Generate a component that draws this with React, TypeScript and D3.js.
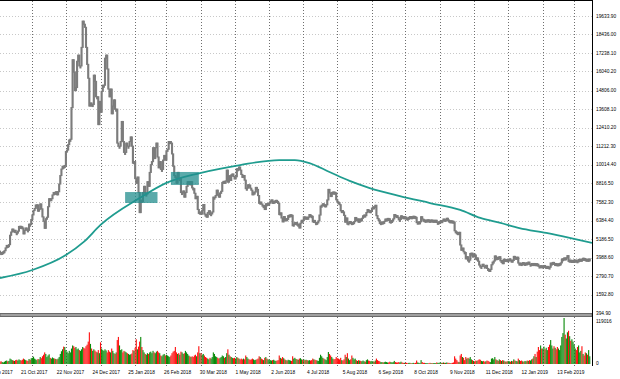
import React from 'react';
import * as d3 from 'd3';

const WIDTH = 620;
const HEIGHT = 379;

// one value per calendar day, starting with the first day below
const firstDay = '2017-10-01';

const close2017Oct = [4390, 4400, 4310, 4210, 4320, 4370, 4430, 4610, 4770, 4760, 4820, 5430, 5640, 5830, 5680, 5750, 5600, 5570, 5700, 6000, 6010, 5980, 5900, 5520, 5750, 5900, 5780, 5750, 6150, 6130, 6450];
const close2017Nov = [6750, 7030, 7160, 7390, 7400, 6990, 7120, 7460, 7140, 6620, 6340, 5880, 6500, 6600, 7280, 7800, 7700, 7800, 8040, 8200, 8100, 8250, 8050, 8250, 8750, 9300, 9720, 9900, 9850, 9950];
const close2017Dec = [10850, 10950, 11300, 11600, 11650, 13700, 16800, 16000, 14800, 15000, 16700, 17100, 16400, 16400, 17600, 19300, 19100, 18900, 17600, 16500, 15600, 13800, 14000, 13800, 13900, 15800, 15400, 14400, 14400, 12600, 14100];
const close2018Jan = [13400, 14750, 15150, 15150, 16900, 17100, 16200, 14900, 14400, 14900, 13300, 13800, 14200, 13600, 13600, 11400, 11200, 11200, 11500, 12800, 11500, 10800, 10800, 11400, 11200, 11200, 11500, 11800, 11200, 10100, 10200];
const close2018Feb = [9100, 8800, 9200, 8200, 6900, 7700, 7600, 8200, 8600, 8100, 8100, 8900, 8600, 9500, 10000, 10200, 11100, 10400, 11100, 11400, 10500, 9800, 10200, 9700, 9700, 10300, 10600, 10300];
const close2018Mar = [10900, 11000, 11500, 11500, 11400, 10700, 9900, 9300, 9200, 8800, 9500, 9100, 9100, 8200, 8200, 8300, 7900, 8200, 8600, 8900, 8900, 8700, 8900, 8500, 8450, 8150, 7800, 7950, 7100, 6850, 6930];
const close2018Apr = [6800, 7050, 7420, 6800, 6780, 6600, 6900, 7020, 6770, 6830, 6940, 7900, 7900, 8000, 8350, 8050, 7900, 8170, 8280, 8850, 8920, 8800, 8950, 9650, 8870, 9280, 8980, 9340, 9400, 9240];
const close2018May = [9080, 9220, 9740, 9700, 9850, 9650, 9370, 9180, 9300, 9000, 8450, 8480, 8700, 8680, 8480, 8350, 8050, 8220, 8230, 8530, 8400, 8000, 7500, 7580, 7450, 7350, 7350, 7100, 7470, 7400, 7500];
const close2018Jun = [7520, 7640, 7720, 7500, 7620, 7650, 7690, 7620, 7500, 6770, 6880, 6550, 6300, 6640, 6400, 6500, 6460, 6700, 6730, 6760, 6720, 6050, 6150, 6250, 6260, 6090, 6150, 5900, 6220, 6400];
const close2018Jul = [6380, 6620, 6510, 6600, 6530, 6600, 6770, 6700, 6660, 6300, 6390, 6250, 6240, 6270, 6360, 6740, 7320, 7380, 7470, 7330, 7400, 7400, 7720, 8400, 8170, 7940, 8200, 8230, 8220, 8180, 7730];
const close2018Aug = [7600, 7540, 7410, 7010, 7030, 6940, 6720, 6280, 6550, 6150, 6240, 6320, 6250, 6190, 6270, 6310, 6580, 6390, 6490, 6270, 6480, 6360, 6530, 6690, 6740, 6700, 6900, 7090, 7030, 6980, 7020];
const close2018Sep = [7190, 7270, 7260, 7370, 6700, 6510, 6410, 6200, 6250, 6290, 6280, 6330, 6480, 6480, 6520, 6500, 6250, 6350, 6390, 6490, 6770, 6710, 6700, 6590, 6430, 6460, 6690, 6640, 6600, 6630];
const close2018Oct = [6590, 6530, 6500, 6590, 6640, 6600, 6630, 6660, 6640, 6590, 6250, 6280, 6300, 6300, 6630, 6480, 6440, 6380, 6400, 6420, 6430, 6400, 6390, 6420, 6390, 6400, 6400, 6400, 6260, 6270, 6300];
const close2018Nov = [6340, 6380, 6360, 6480, 6410, 6460, 6530, 6420, 6340, 6370, 6360, 6340, 6290, 5720, 5650, 5600, 5570, 5620, 4800, 4460, 4600, 4360, 4310, 3900, 4040, 3770, 3820, 4250, 4270, 4020];
const close2018Dec = [4220, 4150, 3880, 3960, 3750, 3500, 3400, 3410, 3550, 3430, 3380, 3480, 3280, 3220, 3200, 3220, 3520, 3690, 3760, 4090, 3850, 4000, 3950, 4040, 3770, 3800, 3590, 3880, 3750, 3860, 3740];
const close2019Jan = [3840, 3900, 3790, 3820, 3800, 4060, 4000, 4000, 4010, 3630, 3630, 3600, 3510, 3660, 3570, 3610, 3640, 3600, 3690, 3540, 3560, 3600, 3570, 3600, 3590, 3590, 3550, 3440, 3410, 3460, 3420];
const close2019Feb = [3440, 3470, 3400, 3410, 3410, 3370, 3360, 3630, 3630, 3670, 3590, 3600, 3580, 3560, 3580, 3600, 3640, 3880, 3910, 3960, 3920, 3970, 4110, 3740, 3820, 3800, 3800, 3800];
const close2019Mar = [3820, 3820, 3780, 3700, 3860, 3870, 3880, 3860, 3940, 3920, 3870, 3880, 3870, 3870, 3900];

// daily volume, thousands
const vol2017Oct = [5, 4, 6, 7, 5, 4, 6, 8, 9, 7, 8, 14, 12, 10, 9, 8, 10, 11, 9, 12, 10, 9, 11, 14, 12, 10, 9, 8, 13, 11, 15];
const vol2017Nov = [16, 19, 14, 12, 10, 13, 12, 18, 15, 20, 24, 30, 26, 18, 22, 25, 16, 14, 17, 15, 14, 13, 12, 14, 18, 26, 33, 38, 45, 44];
const vol2017Dec = [36, 32, 28, 34, 30, 40, 48, 46, 42, 44, 38, 40, 36, 34, 38, 44, 42, 40, 46, 50, 58, 82, 52, 40, 34, 38, 35, 32, 30, 36, 28];
const vol2018Jan = [56, 40, 36, 34, 38, 35, 30, 36, 32, 30, 40, 34, 28, 26, 30, 62, 70, 48, 36, 38, 30, 34, 32, 30, 28, 26, 24, 25, 27, 36, 34];
const vol2018Feb = [42, 64, 38, 45, 58, 70, 44, 36, 30, 26, 24, 28, 26, 30, 32, 28, 34, 30, 28, 32, 34, 30, 28, 22, 20, 24, 26, 22];
const vol2018Mar = [24, 22, 20, 18, 22, 28, 32, 34, 44, 30, 26, 28, 24, 32, 30, 26, 28, 34, 30, 26, 22, 20, 18, 20, 18, 22, 24, 20, 30, 46, 28];
const vol2018Apr = [28, 24, 26, 22, 18, 16, 14, 12, 16, 14, 18, 30, 26, 20, 18, 16, 14, 16, 18, 22, 20, 16, 18, 28, 38, 24, 20, 18, 16, 15];
const vol2018May = [16, 14, 18, 16, 14, 12, 14, 12, 14, 12, 22, 18, 14, 12, 11, 12, 14, 12, 10, 11, 12, 14, 20, 18, 14, 12, 10, 16, 18, 14, 12];
const vol2018Jun = [11, 10, 9, 10, 11, 9, 8, 9, 10, 22, 16, 14, 18, 15, 12, 10, 9, 11, 10, 9, 8, 20, 14, 16, 13, 12, 11, 14, 15, 12];
const vol2018Jul = [11, 12, 10, 11, 10, 9, 10, 9, 10, 14, 12, 11, 10, 9, 8, 16, 24, 20, 16, 14, 12, 10, 18, 31, 26, 22, 18, 14, 12, 13, 18];
const vol2018Aug = [15, 14, 12, 16, 10, 9, 12, 24, 18, 28, 14, 10, 12, 22, 16, 12, 14, 10, 8, 10, 9, 8, 7, 9, 7, 6, 10, 12, 9, 8, 7];
const vol2018Sep = [8, 7, 6, 9, 14, 10, 8, 7, 5, 5, 4, 5, 6, 5, 4, 4, 6, 5, 4, 5, 8, 5, 4, 4, 5, 4, 6, 4, 3, 3];
const vol2018Oct = [3, 3, 2, 3, 3, 2, 2, 3, 2, 3, 9, 4, 3, 2, 10, 5, 3, 3, 2, 2, 2, 2, 3, 2, 2, 2, 2, 2, 4, 3, 3];
const vol2018Nov = [4, 3, 3, 4, 3, 3, 4, 3, 3, 2, 2, 3, 4, 20, 14, 10, 6, 5, 22, 26, 18, 16, 10, 18, 14, 16, 14, 18, 12, 10];
const vol2018Dec = [8, 7, 9, 8, 10, 12, 11, 8, 7, 8, 6, 7, 9, 8, 6, 5, 14, 15, 12, 18, 12, 10, 8, 12, 10, 8, 10, 9, 7, 6, 7];
const vol2019Jan = [8, 7, 6, 8, 7, 12, 9, 8, 7, 14, 10, 8, 9, 7, 6, 8, 7, 9, 8, 10, 9, 12, 14, 20, 26, 18, 32, 44, 36, 48, 40];
const vol2019Feb = [40, 45, 38, 42, 36, 44, 50, 62, 48, 40, 46, 42, 38, 44, 40, 36, 48, 70, 80, 119.016, 76, 66, 82, 86, 72, 60, 64, 58];
const vol2019Mar = [50, 40, 36, 44, 48, 30, 34, 46, 26, 22, 30, 28, 24, 36, 20];

// moving average (teal line) read at these dates
const maDates = ['2017-10-03', '2017-11-01', '2017-12-01', '2017-12-17', '2018-01-01', '2018-02-05', '2018-03-01', '2018-03-31', '2018-05-06', '2018-06-10', '2018-06-24', '2018-07-07', '2018-07-25', '2018-08-12', '2018-08-30', '2018-09-26', '2018-10-23', '2018-11-19', '2018-12-07', '2018-12-25', '2019-01-11', '2019-02-04', '2019-02-25', '2019-03-17'];
const maValues = [2660, 3180, 4150, 5000, 6100, 7840, 8820, 9460, 9980, 10300, 10300, 10110, 9530, 8950, 8490, 7970, 7520, 7070, 6550, 6230, 5900, 5580, 5260, 4930];

// highlighted rectangles
const boxFrom = ['2018-01-23', '2018-03-05'];
const boxTo = ['2018-02-21', '2018-03-30'];
const boxHigh = [8230, 9530];
const boxLow = [7520, 8690];

const priceTicks = [19633.9, 18436.0, 17238.1, 16040.2, 14806.0, 13608.1, 12410.2, 11212.3, 10014.4, 8816.5, 7582.3, 6384.4, 5186.5, 3988.6, 2790.7, 1592.8, 394.9];
const dateLabels = ['2017-09-19', '2017-10-21', '2017-11-22', '2017-12-24', '2018-01-25', '2018-02-26', '2018-03-30', '2018-05-01', '2018-06-02', '2018-07-04', '2018-08-05', '2018-09-06', '2018-10-08', '2018-11-09', '2018-12-11', '2019-01-12', '2019-02-13'];
const volumeMax = 119016;

const closes = [
  ...close2017Oct, ...close2017Nov, ...close2017Dec, ...close2018Jan, ...close2018Feb, ...close2018Mar,
  ...close2018Apr, ...close2018May, ...close2018Jun, ...close2018Jul, ...close2018Aug, ...close2018Sep,
  ...close2018Oct, ...close2018Nov, ...close2018Dec, ...close2019Jan, ...close2019Feb, ...close2019Mar,
];
const volumes = [
  ...vol2017Oct, ...vol2017Nov, ...vol2017Dec, ...vol2018Jan, ...vol2018Feb, ...vol2018Mar,
  ...vol2018Apr, ...vol2018May, ...vol2018Jun, ...vol2018Jul, ...vol2018Aug, ...vol2018Sep,
  ...vol2018Oct, ...vol2018Nov, ...vol2018Dec, ...vol2019Jan, ...vol2019Feb, ...vol2019Mar,
];

const parse = (s: string) => new Date(s + 'T00:00:00Z');
const day0 = parse(firstDay);
const dayOf = (i: number) => d3.utcDay.offset(day0, i);

const PLOT_RIGHT = 592;
const MAIN_TOP = 1;
const MAIN_BOTTOM = 313;
const VOL_TOP = 318;
const VOL_BOTTOM = 364;

const x = d3.scaleUtc().domain([parse('2017-10-03'), parse('2019-03-17')]).range([0, PLOT_RIGHT]);
const y = d3.scaleLinear().domain([394.9, 19633.9]).range([313, 16]);
const yv = d3.scaleLinear().domain([0, volumeMax]).range([VOL_BOTTOM, VOL_TOP]);

const fmtDate = d3.utcFormat('%-d %b %Y');
const FONT = 'Liberation Sans, Arial, sans-serif';
const step = x(dayOf(1)) - x(dayOf(0));

function Label({ x: lx, y: ly, text, anchor = 'start' }: { x: number; y: number; text: string; anchor?: string }) {
  return (
    <text
      transform={`translate(${lx},${ly}) scale(0.82,1)`}
      fontFamily={FONT}
      fontSize={5.9}
      fill="#000"
      textAnchor={anchor}
      dominantBaseline="middle"
    >
      {text}
    </text>
  );
}

export default function App() {
  const monthGrid = x.ticks(d3.utcMonth.every(1)!).filter((d) => x(d) > 0 && x(d) < PLOT_RIGHT);

  const maLine = d3
    .line<number>()
    .x((_, i) => x(parse(maDates[i])))
    .y((v) => y(v))
    .curve(d3.curveMonotoneX)(maValues);

  return (
    <svg width={WIDTH} height={HEIGHT} style={{ position: 'absolute', left: 0, top: 0, background: '#fff' }}>
      <defs>
        <clipPath id="mainClip">
          <rect x={0} y={MAIN_TOP} width={PLOT_RIGHT} height={MAIN_BOTTOM - MAIN_TOP} />
        </clipPath>
        <clipPath id="volClip">
          <rect x={0} y={VOL_TOP - 2} width={PLOT_RIGHT} height={VOL_BOTTOM - VOL_TOP + 3} />
        </clipPath>
      </defs>
      <rect x={0} y={0} width={WIDTH} height={HEIGHT} fill="#fff" />

      {/* horizontal grid */}
      {priceTicks.slice(0, -1).map((t) => (
        <line key={t} x1={0} x2={PLOT_RIGHT} y1={Math.round(y(t)) + 0.5} y2={Math.round(y(t)) + 0.5} stroke="#c8c8c8" strokeDasharray="1,2" />
      ))}
      {/* vertical grid */}
      {monthGrid.map((d) => (
        <g key={+d}>
          <line x1={Math.round(x(d)) + 0.5} x2={Math.round(x(d)) + 0.5} y1={MAIN_TOP} y2={MAIN_BOTTOM} stroke="#6e6e6e" strokeDasharray="1,2" />
          <line x1={Math.round(x(d)) + 0.5} x2={Math.round(x(d)) + 0.5} y1={VOL_TOP - 1} y2={VOL_BOTTOM + 2} stroke="#6e6e6e" strokeDasharray="1,2" />
        </g>
      ))}

      {/* price bars */}
      <g clipPath="url(#mainClip)">
        {closes.map((c, i) => {
          if (i === 0) return null;
          const y1 = y(closes[i - 1]);
          const y2 = y(c);
          const top = Math.min(y1, y2);
          const h = Math.max(Math.abs(y1 - y2), 2);
          return <rect key={i} x={x(dayOf(i)) - 0.5} y={top} width={1} height={h} fill="#7c7c7c" stroke="#7c7c7c" strokeWidth={1.1} />;
        })}
        <path d={maLine || ''} fill="none" stroke="#1f9c8f" strokeWidth={1.8} />
        {boxFrom.map((f, i) => (
          <rect
            key={f}
            x={x(parse(f))}
            width={x(parse(boxTo[i])) - x(parse(f))}
            y={y(boxHigh[i])}
            height={y(boxLow[i]) - y(boxHigh[i])}
            fill="#238e8e"
            fillOpacity={0.75}
          />
        ))}
      </g>

      {/* volume */}
      <g clipPath="url(#volClip)">
        {volumes.map((v, i) => {
          const up = i === 0 ? true : closes[i] >= closes[i - 1];
          const top = yv(v * 1000);
          return <rect key={i} x={x(dayOf(i)) - step / 2} y={top} width={step} height={VOL_BOTTOM - top} fill={up ? '#0a8a0a' : '#ff1010'} />;
        })}
      </g>

      {/* separator between panes */}
      <rect x={0} y={313.5} width={PLOT_RIGHT} height={3} fill="#a0a0a0" stroke="#6a6a6a" strokeWidth={1} />

      {/* frame */}
      <line x1={0} x2={PLOT_RIGHT} y1={0.5} y2={0.5} stroke="#000" />
      <line x1={PLOT_RIGHT + 0.5} x2={PLOT_RIGHT + 0.5} y1={0} y2={366} stroke="#000" />

      {/* price labels */}
      {priceTicks.map((t) => (
        <Label key={t} x={596} y={y(t)} text={t.toFixed(2)} />
      ))}
      <Label x={596} y={321} text={String(volumeMax)} />
      <Label x={596} y={363} text="0" />

      {/* date labels */}
      {dateLabels.map((s) => (
        <Label key={s} x={x(parse(s)) + 1} y={372.5} text={fmtDate(parse(s))} />
      ))}
    </svg>
  );
}
